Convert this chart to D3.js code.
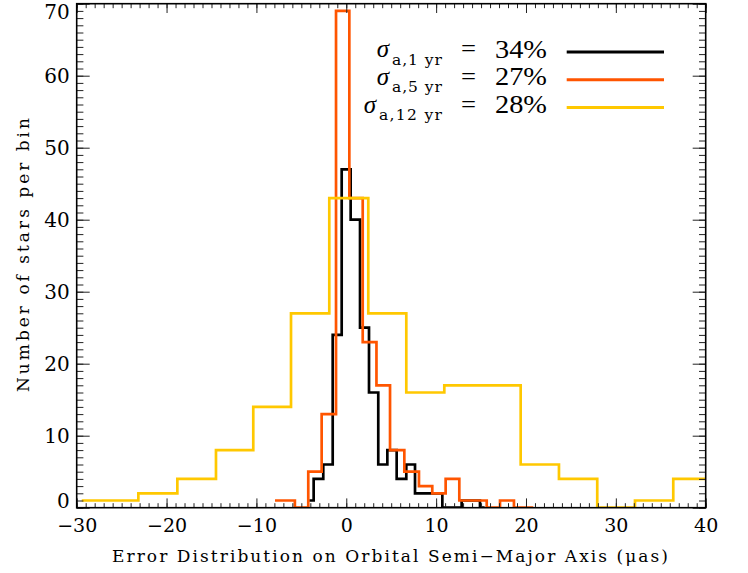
<!DOCTYPE html>
<html>
<head>
<meta charset="utf-8">
<script src="https://cdn.jsdelivr.net/npm/d3@7"></script>
<style>
  html, body { margin: 0; padding: 0; background: #fff; }
  svg { display: block; }
</style>
</head>
<body>
<svg id="chart" width="748" height="573"></svg>
<script>
// ---------------- data ----------------
const xTicks = [-30, -20, -10, 0, 10, 20, 30, 40];
const yTicks = [0, 10, 20, 30, 40, 50, 60, 70];

// 1 yr (black) histogram: bin edges and counts
const edges1yr  = [-4.12, -3.63, -2.56, -1.51, -0.51, 0.49, 1.53, 2.53, 3.56, 4.57, 5.61, 6.68, 7.65, 8.66, 9.67, 10.69, 11.73, 12.84, 13.85, 14.88, 15.4];
const counts1yr = [1, 4, 6, 24, 47, 40, 25, 16, 6, 8, 4, 6, 2, 2, 2, 0, 0, 1, 1, 0];

// 5 yr (orange) histogram
const edges5yr  = [-7.93, -5.72, -4.23, -2.74, -1.14, 0.34, 1.83, 3.36, 4.87, 6.46, 8.09, 9.57, 11.06, 12.58, 14.07, 15.63, 17.11, 18.66, 20.81];
const counts5yr = [1, 0, 5, 13, 69, 43, 23, 17, 8, 5, 3, 2, 4, 1, 1, 0, 1, 0];

// 12 yr (yellow) histogram
const edges12yr  = [-29.44, -23.14, -18.80, -14.50, -10.35, -6.15, -1.89, 2.45, 6.68, 10.91, 15.16, 19.41, 23.67, 27.93, 32.13, 36.39, 40.65];
const counts12yr = [1, 2, 4, 8, 14, 27, 43, 27, 16, 17, 17, 6, 4, 0, 1, 4];

const legendSubs   = ["a,1 yr", "a,5 yr", "a,12 yr"];
const legendValues = ["34%", "27%", "28%"];
const seriesColors = ["#000000", "#ff5500", "#ffc800"];

// ---------------- layout ----------------
const svg = d3.select("#chart");
const X0 = 76.7, X1 = 705.7, Y0 = 507.7, Y1 = 3.7;
const x = d3.scaleLinear().domain([-30, 40]).range([X0, X1]);
const y = d3.scaleLinear().domain([0, 70]).range([Y0, Y1]);

svg.append("defs").append("clipPath").attr("id", "plotclip")
  .append("rect").attr("x", X0).attr("y", Y1 - 2).attr("width", X1 - X0).attr("height", Y0 - Y1 + 2);

// ---------------- histograms ----------------
function stepPoints(edges, counts) {
  const pts = [];
  counts.forEach((c, i) => {
    pts.push([edges[i], c]);
    pts.push([edges[i + 1], c]);
  });
  return pts;
}
const line = d3.line().x(d => x(d[0])).y(d => y(d[1]));
const gData = svg.append("g").attr("clip-path", "url(#plotclip)");
const series = [
  { edges: edges1yr, counts: counts1yr, color: seriesColors[0] },
  { edges: edges5yr, counts: counts5yr, color: seriesColors[1] },
  { edges: edges12yr, counts: counts12yr, color: seriesColors[2] }
];
series.forEach(s => {
  gData.append("path")
    .attr("d", line(stepPoints(s.edges, s.counts)))
    .attr("fill", "none")
    .attr("stroke", s.color)
    .attr("stroke-width", 2.7)
    .attr("stroke-linejoin", "miter");
});

// ---------------- axes ----------------
const fontTick = "DejaVu Serif, serif";
const fontLeg = "Liberation Serif, Times New Roman, serif";
const xMinor = d3.range(-30, 41, 1);
const yMinor = d3.range(0, 71, 1);

const axB = svg.append("g").attr("transform", `translate(0,${Y0})`)
  .call(d3.axisBottom(x).tickValues(xMinor).tickSize(-4.5).tickFormat(""));
const axBmaj = svg.append("g").attr("transform", `translate(0,${Y0})`)
  .call(d3.axisBottom(x).tickValues(xTicks).tickSize(-9.3).tickPadding(15)
    .tickFormat(d => d < 0 ? "\u2212" + Math.abs(d) : String(d)));
const axT = svg.append("g").attr("transform", `translate(0,${Y1})`)
  .call(d3.axisTop(x).tickValues(xMinor).tickSize(-4.5).tickFormat(""));
const axTmaj = svg.append("g").attr("transform", `translate(0,${Y1})`)
  .call(d3.axisTop(x).tickValues(xTicks).tickSize(-9.3).tickFormat(""));
const axL = svg.append("g").attr("transform", `translate(${X0},0)`)
  .call(d3.axisLeft(y).tickValues(yMinor).tickSize(-6.7).tickFormat(""));
const axLmaj = svg.append("g").attr("transform", `translate(${X0},0)`)
  .call(d3.axisLeft(y).tickValues(yTicks).tickSize(-13).tickPadding(8).tickFormat(d3.format("d")));
const axR = svg.append("g").attr("transform", `translate(${X1},0)`)
  .call(d3.axisRight(y).tickValues(yMinor).tickSize(-6.7).tickFormat(""));
const axRmaj = svg.append("g").attr("transform", `translate(${X1},0)`)
  .call(d3.axisRight(y).tickValues(yTicks).tickSize(-13).tickFormat(""));

[axB, axBmaj, axT, axTmaj, axL, axLmaj, axR, axRmaj].forEach(g => {
  g.select(".domain").remove();
  g.selectAll(".tick line").attr("stroke", "#222").attr("stroke-width", 1);
});
axBmaj.selectAll(".tick text")
  .attr("font-family", fontTick).attr("font-size", 19).attr("fill", "#000")
  .attr("dy", 0).attr("y", 24.5);
axLmaj.selectAll(".tick text")
  .attr("font-family", fontTick).attr("font-size", 20).attr("fill", "#000")
  .attr("x", -7).attr("dy", d => d === 0 ? "-0.03em" : (d === 70 ? "0.72em" : "0.35em"));

// frame
svg.append("rect").attr("x", X0).attr("y", Y1).attr("width", X1 - X0).attr("height", Y0 - Y1)
  .attr("fill", "none").attr("stroke", "#000").attr("stroke-width", 1.6);

// ---------------- axis titles ----------------
svg.append("text")
  .attr("x", 112).attr("y", 562)
  .attr("font-family", fontTick).attr("font-size", 17).attr("fill", "#000")
  .attr("textLength", 556).attr("lengthAdjust", "spacing")
  .text("Error Distribution on Orbital Semi\u2212Major Axis (\u03BCas)");

svg.append("text")
  .attr("transform", "translate(29,392) rotate(-90)")
  .attr("font-family", fontTick).attr("font-size", 17).attr("fill", "#000")
  .attr("textLength", 274).attr("lengthAdjust", "spacing")
  .text("Number of stars per bin");

// ---------------- legend ----------------
const legendBase = [57, 84.8, 112.6];
const subLens = [50, 50, 63];
const gLeg = svg.append("g");
legendSubs.forEach((sub, i) => {
  const yb = legendBase[i];
  const subX = 442 - subLens[i];
  gLeg.append("text")
    .attr("x", subX).attr("y", yb + 7.5)
    .attr("font-family", fontTick).attr("font-size", 15.5).attr("fill", "#000")
    .attr("textLength", subLens[i]).attr("lengthAdjust", "spacing")
    .text(sub);
  gLeg.append("text")
    .attr("x", subX - 3).attr("y", yb).attr("text-anchor", "end")
    .attr("font-family", fontLeg).attr("font-style", "italic")
    .attr("font-size", 25).attr("fill", "#000")
    .text("\u03C3");
  gLeg.append("text")
    .attr("x", 461).attr("y", yb)
    .attr("font-family", fontLeg).attr("font-size", 25).attr("fill", "#000")
    .attr("textLength", 15).attr("lengthAdjust", "spacingAndGlyphs")
    .text("=");
  gLeg.append("text")
    .attr("x", 495).attr("y", yb + 0.5)
    .attr("font-family", fontLeg).attr("font-size", 25).attr("fill", "#000")
    .attr("textLength", 52).attr("lengthAdjust", "spacingAndGlyphs")
    .text(legendValues[i]);
  gLeg.append("line")
    .attr("x1", 566.7).attr("x2", 664)
    .attr("y1", yb - 5).attr("y2", yb - 5)
    .attr("stroke", seriesColors[i]).attr("stroke-width", 3);
});
</script>
</body>
</html>
